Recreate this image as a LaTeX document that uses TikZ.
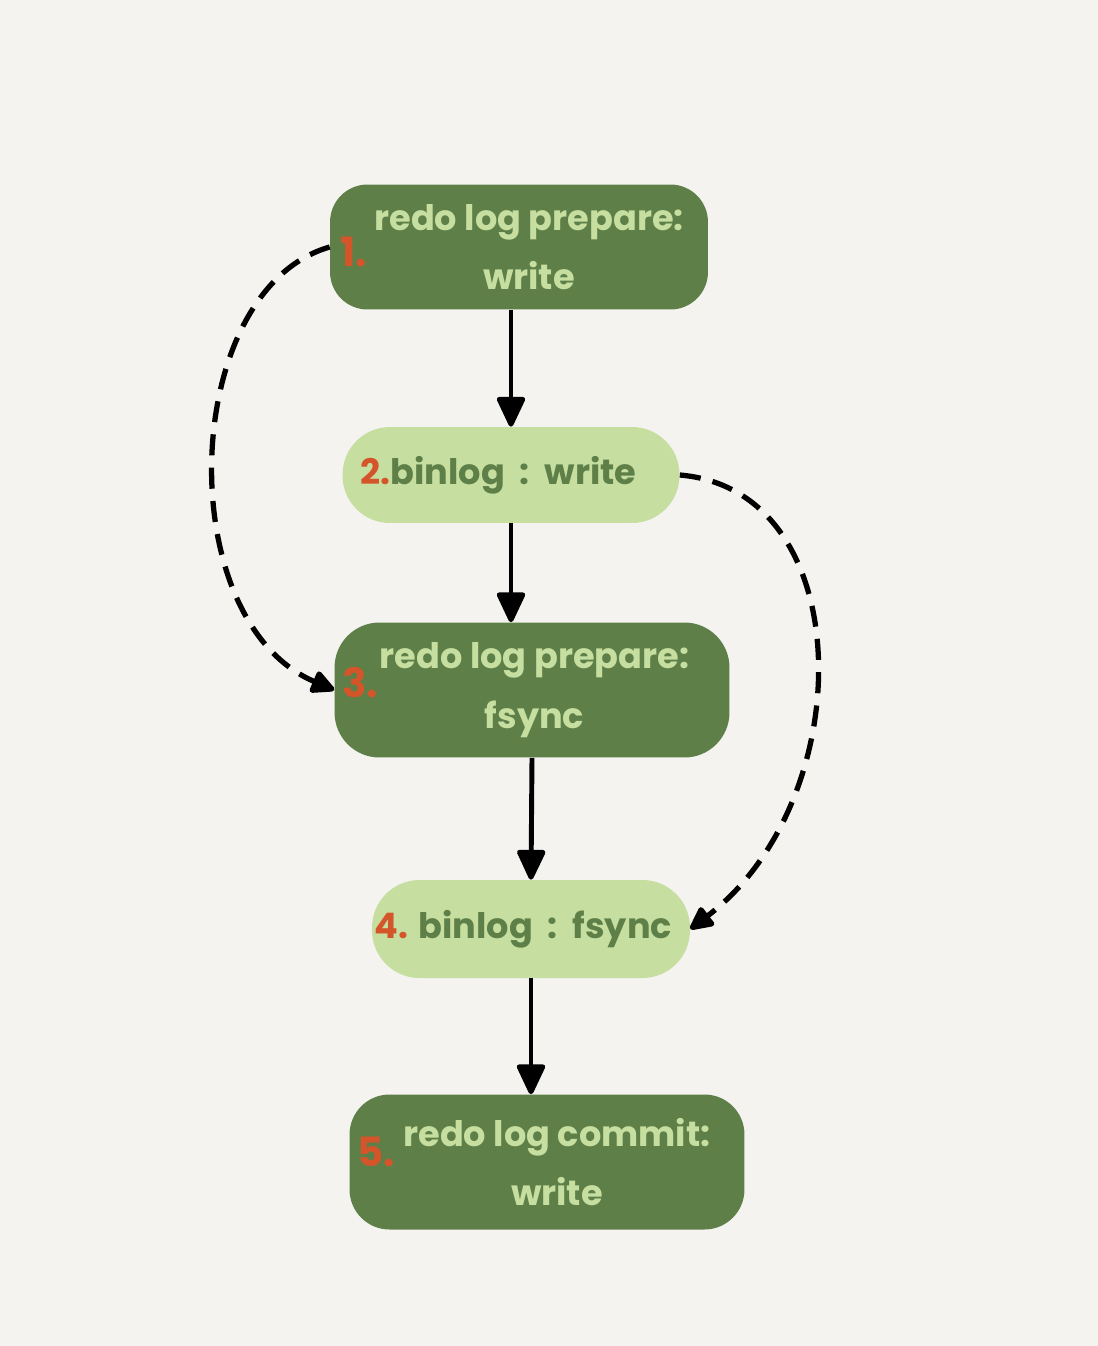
\documentclass[tikz,border=0pt]{standalone}
\usepackage{fontspec}
\setmainfont{Poppins}
\usetikzlibrary{arrows.meta, positioning}
\definecolor{paper}{HTML}{F4F3EF}
\definecolor{leafdark}{HTML}{5E7F48}
\definecolor{leaflight}{HTML}{C6DFA0}
\definecolor{stepnum}{HTML}{D4552A}

\begin{document}
\begin{tikzpicture}[x=0.02cm, y=-0.02cm, >=Stealth,
  font=\fontsize{20}{34}\selectfont\bfseries,
  darkbox/.style={fill=leafdark, text=leaflight, rounded corners=0.75cm, align=center, inner sep=0pt},
  lightbox/.style={fill=leaflight, text=leafdark, rounded corners=0.95cm, inner sep=0pt},
  num/.style={text=stepnum, font=\fontsize{23}{23}\selectfont\bfseries, inner sep=0pt, anchor=west},
  flow/.style={line width=2.8pt, -{Triangle[round, length=19pt, width=17pt]}},
  skiparr/.style={line width=3pt, dash pattern=on 12pt off 7pt, -{Triangle[round, length=15pt, width=14pt]}}]
  \fill[paper] (0,0) rectangle (1098,1346);
  \useasboundingbox (0,0) rectangle (1098,1346);

  % Steps, top to bottom
  \node[darkbox, minimum width=7.56cm, minimum height=2.5cm] (box1) at (519,247)
    {\hspace*{0.4cm}redo log prepare:\\\hspace*{0.4cm}write};
  \node[lightbox, minimum width=6.74cm, minimum height=1.92cm] (box2) at (511,475)
    {{\color{stepnum}2.}binlog\ \ :\ \ write\hspace*{0.5cm}};
  \node[darkbox, rounded corners=0.9cm, minimum width=7.9cm, minimum height=2.7cm] (box3) at (532,690)
    {\hspace*{0.1cm}redo log prepare:\\\hspace*{0.1cm}fsync};
  \node[lightbox, minimum width=6.36cm, minimum height=1.96cm] (box4) at (531,929)
    {{\color{stepnum}4.} binlog\ \ :\ \ fsync\hspace*{0.3cm}};
  \node[darkbox, rounded corners=0.8cm, minimum width=7.9cm, minimum height=2.7cm] (box5) at (547,1162)
    {\hspace*{0.4cm}redo log commit:\\\hspace*{0.4cm}write};

  % Step numbers on the dark boxes
  \node[num] (n1) at ([xshift=0.2cm, yshift=-0.1cm]box1.west) {1.};
  \node[num] (n3) at ([xshift=0.16cm, yshift=0.15cm]box3.west) {3.};
  \node[num] (n5) at ([xshift=0.16cm, yshift=0.2cm]box5.west) {5.};

  % --- Main chain (solid) ---
  \draw[flow] (box2.north |- box1.south) -- (box2.north);
  \draw[flow] (box2.south) -- (box2.south |- box3.north);
  \draw[flow] (box3.south) -- (box4.north);
  \draw[flow] (box4.south) -- (box4.south |- box5.north);

  % --- Skips (dashed) ---
  \draw[skiparr] (box1.west) .. controls (180,290) and (170,620) .. (box3.west);
  \draw[skiparr] (box2.east) .. controls (860,490) and (860,800) .. (box4.east);
\end{tikzpicture}
\end{document}
